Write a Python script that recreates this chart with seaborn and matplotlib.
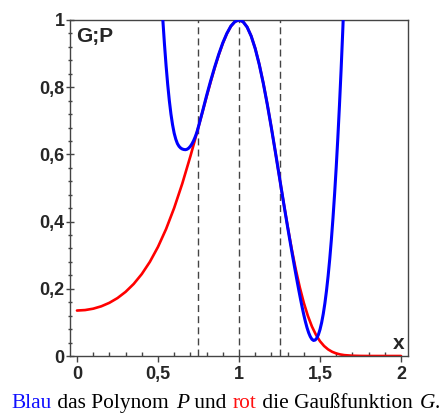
import matplotlib
matplotlib.use("Agg")
import matplotlib.pyplot as plt
from matplotlib.ticker import MultipleLocator
import seaborn as sns

# --- data ---
# red: Gaussian G
red_x = [0.0, 0.05, 0.1, 0.15, 0.2, 0.25, 0.3, 0.35, 0.4, 0.45, 0.5, 0.55, 0.6, 0.65, 0.7,
         0.725, 0.75, 0.775, 0.8, 0.825, 0.85, 0.875, 0.9, 0.925, 0.95, 0.975, 1.0,
         1.025, 1.05, 1.075, 1.1, 1.125, 1.15, 1.175, 1.2, 1.225, 1.25, 1.275, 1.3,
         1.325, 1.35, 1.375, 1.4, 1.425, 1.45, 1.475, 1.5, 1.525, 1.55, 1.575, 1.6,
         1.625, 1.65, 1.7, 1.75, 1.8, 1.85, 1.9, 1.95, 2.0]
red_y = [0.1353, 0.1367, 0.1408, 0.1479, 0.1583, 0.1724, 0.1909, 0.2144, 0.2439, 0.2803,
         0.3247, 0.3779, 0.4408, 0.5132, 0.5944,
         0.6376, 0.6820, 0.7269, 0.7717, 0.8155, 0.8573, 0.8960, 0.9303, 0.9592, 0.9812,
         0.9951, 1.0, 0.9949, 0.9792, 0.9527, 0.9156, 0.8684, 0.8122, 0.7484, 0.6790,
         0.6058, 0.5311, 0.4571, 0.3859, 0.3192, 0.2585, 0.2047, 0.1583, 0.1195, 0.0879,
         0.0630, 0.0439, 0.0298, 0.0196, 0.0125, 0.0077, 0.0046, 0.0026, 0.0008, 0.0002,
         0.0, 0.0, 0.0, 0.0, 0.0]

# blue: polynomial P
blue_x = [0.52, 0.53, 0.54, 0.55, 0.56, 0.57, 0.58, 0.59, 0.60, 0.61, 0.62, 0.63, 0.64,
          0.65, 0.66, 0.67, 0.68, 0.69, 0.70, 0.71, 0.72, 0.73, 0.74, 0.75, 0.76,
          0.775, 0.8, 0.825, 0.85, 0.875, 0.9, 0.925, 0.95, 0.975, 1.0, 1.025, 1.05,
          1.075, 1.1, 1.125, 1.15, 1.175, 1.2, 1.225,
          1.25, 1.26, 1.27, 1.28, 1.29, 1.30, 1.31, 1.32, 1.33, 1.34, 1.35, 1.36, 1.37,
          1.38, 1.39, 1.40, 1.41, 1.42, 1.43, 1.44, 1.45, 1.46, 1.47, 1.48, 1.49, 1.50,
          1.51, 1.52, 1.53, 1.54, 1.55, 1.56, 1.57, 1.58, 1.59, 1.60, 1.61, 1.62, 1.63,
          1.64, 1.65]
blue_y = [1.078, 1.000, 0.928, 0.864, 0.808, 0.760, 0.720, 0.688, 0.663, 0.645, 0.632,
          0.624, 0.619, 0.616, 0.6145, 0.614, 0.6154, 0.6188, 0.6242, 0.6316, 0.6410,
          0.6524, 0.6658, 0.683, 0.701,
          0.728, 0.775, 0.819, 0.860, 0.898, 0.932, 0.960, 0.982, 0.9952, 1.0, 0.9948,
          0.9790, 0.9523, 0.9150, 0.8676, 0.8114, 0.7477, 0.6785, 0.6056,
          0.5310, 0.5011, 0.4714, 0.4420, 0.4129, 0.3841, 0.3556, 0.3275, 0.2998, 0.2725,
          0.2456, 0.2192, 0.1935, 0.1686, 0.1447, 0.1223, 0.1019, 0.0840, 0.0691, 0.0577,
          0.0498, 0.0463, 0.0475, 0.0530, 0.0636, 0.0789, 0.0993, 0.1252, 0.1567, 0.1943,
          0.2381, 0.2886, 0.3459, 0.4104, 0.4823, 0.5620, 0.6497, 0.7458, 0.8504, 0.9640,
          1.0868]

nodes = [0.75, 1.0, 1.25]
xticks = [0, 0.5, 1, 1.5, 2]
xtick_labels = ["0", "0,5", "1", "1,5", "2"]
yticks = [0, 0.2, 0.4, 0.6, 0.8, 1.0]
ytick_labels = ["0", "0,2", "0,4", "0,6", "0,8", "1"]

caption = [("Blau", "#1010ff", "normal"), (" das Polynom ", "black", "normal"),
           ("P", "black", "italic"), (" und ", "black", "normal"),
           ("rot", "#ff1010", "normal"), (" die Gaußfunktion ", "black", "normal"),
           ("G", "black", "italic"), (".", "black", "normal")]

sns.set_style("ticks")
plt.rcParams["font.family"] = ["Liberation Sans", "DejaVu Sans"]

fig = plt.figure(figsize=(4.42, 4.19), dpi=100)
ax = fig.add_axes([70 / 442, 63 / 419, 338 / 442, 336 / 419])

# dashed guide lines at the nodes
for xn in nodes:
    ax.axvline(xn, color="#444444", lw=1, dashes=(5, 3), zorder=1)

sns.lineplot(x=red_x, y=red_y, color="#ff0000", lw=1.9, ax=ax, zorder=2)
sns.lineplot(x=blue_x, y=blue_y, color="#0000ff", lw=2.2, ax=ax, zorder=3)

ax.set_xlim(-0.043, 2.043)
ax.set_ylim(0, 1)
ax.set_xticks(xticks)
ax.set_xticklabels(xtick_labels, fontweight="bold", fontsize=13)
ax.set_yticks(yticks)
ax.set_yticklabels(ytick_labels, fontweight="bold", fontsize=13)
ax.xaxis.set_minor_locator(MultipleLocator(0.1))
ax.yaxis.set_minor_locator(MultipleLocator(0.04))
ax.tick_params(axis="x", which="major", direction="out", length=4, width=1, pad=3, color="#444444")
ax.tick_params(axis="x", which="minor", direction="in", length=3, width=1, color="#444444")
ax.tick_params(axis="y", which="major", direction="inout", length=6, width=1, pad=1, color="#444444")
ax.tick_params(axis="y", which="minor", direction="inout", length=3.5, width=1, color="#444444")
for sp in ax.spines.values():
    sp.set_color("#444444")
    sp.set_linewidth(1)

ax.text(0.018, 0.98, "G;P", transform=ax.transAxes, ha="left", va="top",
        fontsize=15, fontweight="bold")
ax.text(0.989, 0.021, "x", transform=ax.transAxes, ha="right", va="baseline",
        fontsize=15, fontweight="bold")

# caption, piece by piece (TeX-like wider word gaps)
fig.canvas.draw()
renderer = fig.canvas.get_renderer()
xpos = 11.7 / 442
for txt, col, style in caption:
    t = fig.text(xpos, 0.0255, txt, color=col, fontstyle=style, fontsize=15.4,
                 family=["Liberation Serif", "DejaVu Serif"], ha="left", va="baseline")
    bb = t.get_window_extent(renderer)
    xpos += (bb.width + 0.6 * txt.count(" ")) / fig.bbox.width

fig.savefig("out.png", dpi=100)
